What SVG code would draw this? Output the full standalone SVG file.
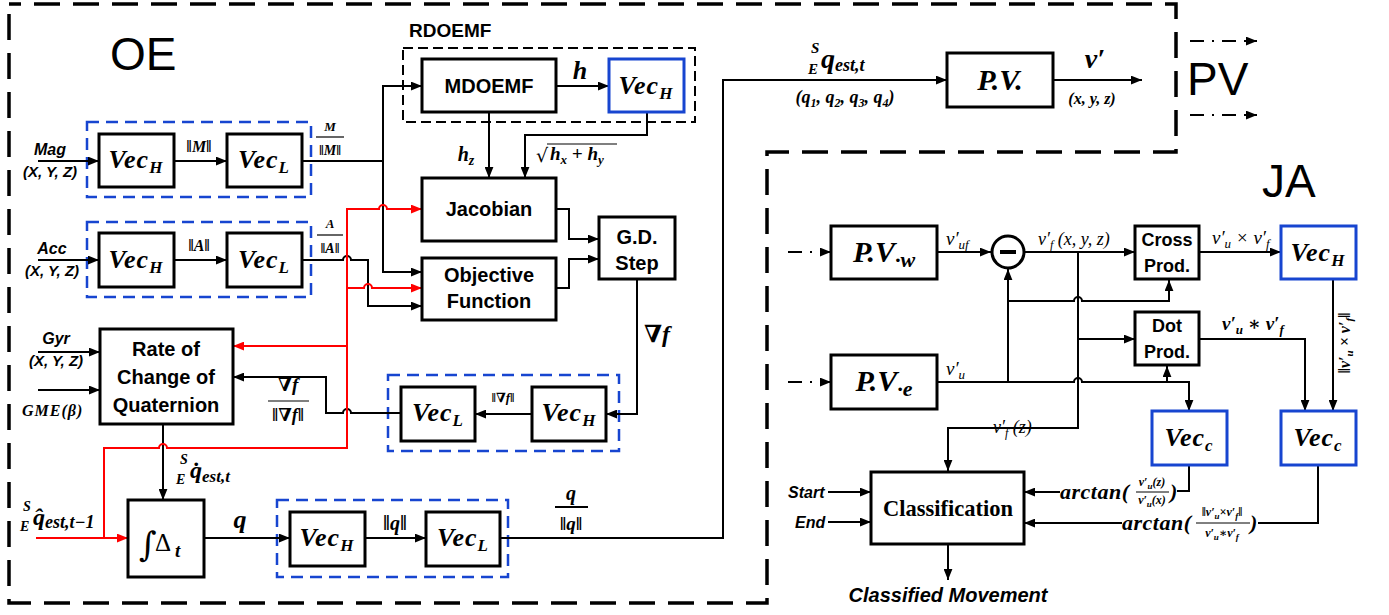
<svg xmlns="http://www.w3.org/2000/svg" width="1389" height="615" viewBox="0 0 1389 615">
<style>
.bx{fill:#fff;stroke:#000;stroke-width:3}
.bb{fill:#fff;stroke:#1745d0;stroke-width:3}
.bd{fill:none;stroke:#1745d0;stroke-width:2.5;stroke-dasharray:12 7}
.rd{fill:none;stroke:#000;stroke-width:2;stroke-dasharray:10 5}
.ob{fill:none;stroke:#000;stroke-width:3.5;stroke-dasharray:26 13}
.c{fill:none;stroke:#000;stroke-width:2}
.r{fill:none;stroke:#f00;stroke-width:2}
.dd{fill:none;stroke:#000;stroke-width:2;stroke-dasharray:14 8 2 8}
.sb{font-family:"Liberation Sans",Arial,sans-serif;font-weight:bold;fill:#000}
.si{font-family:"Liberation Sans",Arial,sans-serif;font-weight:bold;font-style:italic;fill:#000}
.m{font-family:"Liberation Serif","DejaVu Serif",serif;font-weight:bold;font-style:italic;fill:#000}
.mr{font-family:"Liberation Serif","DejaVu Serif",serif;font-style:italic;fill:#000}
.big{font-family:"Liberation Sans",Arial,sans-serif;font-size:46px;fill:#000}
.vec{font-size:26px;letter-spacing:1px}
.t20{font-size:20px}
</style>
<defs>
<marker id="a" viewBox="0 0 10 8" refX="10" refY="4" markerWidth="11" markerHeight="9" orient="auto" markerUnits="userSpaceOnUse"><path d="M0,0L10,4L0,8z" fill="#000"/></marker>
<marker id="ar" viewBox="0 0 10 8" refX="10" refY="4" markerWidth="11" markerHeight="9" orient="auto" markerUnits="userSpaceOnUse"><path d="M0,0L10,4L0,8z" fill="#f00"/></marker>
</defs>

<g id="regions">
<path class="ob" d="M9,14 V603 H767 V152 H1176 V4 H9"/>
<text class="big" x="110" y="70">OE</text>
<text class="big" x="1187" y="95">PV</text>
<text class="big" x="1262" y="197">JA</text>
<rect class="rd" x="403" y="48" width="292" height="74"/>
<text class="sb" x="409" y="37" font-size="19">RDOEMF</text>
<rect class="bd" x="87" y="122" width="224" height="75"/>
<rect class="bd" x="87" y="222" width="224" height="75"/>
<rect class="bd" x="388" y="375" width="231" height="76"/>
<rect class="bd" x="277" y="500" width="231" height="77"/>
</g>

<g id="connectors">
<path class="c" d="M38,161H99" marker-end="url(#a)"/>
<path class="c" d="M174,161H227" marker-end="url(#a)"/>
<path class="c" d="M302,161H383"/>
<path class="c" d="M383,161V86H422" marker-end="url(#a)"/>
<path class="c" d="M383,161V272H422" marker-end="url(#a)"/>
<path class="c" d="M38,260H99" marker-end="url(#a)"/>
<path class="c" d="M174,260H227" marker-end="url(#a)"/>
<path class="c" d="M302,260H343A4,4 0 0 1 351,260H368V306H422" marker-end="url(#a)"/>
<path class="c" d="M556,86H609" marker-end="url(#a)"/>
<path class="c" d="M489,112V178" marker-end="url(#a)"/>
<path class="c" d="M647,112V135H525V178" marker-end="url(#a)"/>
<path class="c" d="M556,209H569V239H599" marker-end="url(#a)"/>
<path class="c" d="M556,288H569V259H599" marker-end="url(#a)"/>
<path class="c" d="M637,279V414H606" marker-end="url(#a)"/>
<path class="c" d="M532,414H475" marker-end="url(#a)"/>
<path class="c" d="M401,413H351A4,4 0 0 0 343,413H326V377H233" marker-end="url(#a)"/>
<path class="c" d="M38,352H100" marker-end="url(#a)"/>
<path class="c" d="M38,390H100" marker-end="url(#a)"/>
<path class="c" d="M163,424V500" marker-end="url(#a)"/>
<path class="c" d="M204,538H290" marker-end="url(#a)"/>
<path class="c" d="M365,538H426" marker-end="url(#a)"/>
<path class="c" d="M500,538H723V80H947" marker-end="url(#a)"/>
<path class="c" d="M1053,80H1142" marker-end="url(#a)"/>
<path class="dd" d="M1190,41H1247"/>
<path class="c" d="M1246,41H1257" marker-end="url(#a)"/>
<path class="dd" d="M1190,115H1247"/>
<path class="c" d="M1246,115H1257" marker-end="url(#a)"/>
<path class="r" d="M36,538H128" marker-end="url(#ar)"/>
<path class="r" d="M104,538V448H159A4,4 0 0 1 167,448H347V209H379A4,4 0 0 1 387,209H422" marker-end="url(#ar)"/>
<path class="r" d="M347,288H364A4,4 0 0 1 372,288H422" marker-end="url(#ar)"/>
<path class="r" d="M347,346H233" marker-end="url(#ar)"/>
<path class="dd" d="M788,252H822"/>
<path class="c" d="M820,252H831" marker-end="url(#a)"/>
<path class="dd" d="M788,382H822"/>
<path class="c" d="M820,382H831" marker-end="url(#a)"/>
<path class="c" d="M937,252H991" marker-end="url(#a)"/>
<path class="c" d="M937,382H1074A4,4 0 0 1 1082,382H1189V411" marker-end="url(#a)"/>
<path class="c" d="M1008,382V269" marker-end="url(#a)"/>
<path class="c" d="M1008,301H1074A4,4 0 0 1 1082,301H1169V280" marker-end="url(#a)"/>
<path class="c" d="M1025,252H1135" marker-end="url(#a)"/>
<path class="c" d="M1078,252V428H948V471" marker-end="url(#a)"/>
<path class="c" d="M1078,339H1135" marker-end="url(#a)"/>
<path class="c" d="M1167,382V366" marker-end="url(#a)"/>
<path class="c" d="M1199,252H1281" marker-end="url(#a)"/>
<path class="c" d="M1333,279V411" marker-end="url(#a)"/>
<path class="c" d="M1199,339H1305V411" marker-end="url(#a)"/>
<path class="c" d="M1189,465V491H1177"/>
<path class="c" d="M1060,492H1024" marker-end="url(#a)"/>
<path class="c" d="M1318,465V523H1258"/>
<path class="c" d="M1122,523H1024" marker-end="url(#a)"/>
<path class="c" d="M828,492H871" marker-end="url(#a)"/>
<path class="c" d="M828,522H871" marker-end="url(#a)"/>
<path class="c" d="M948,544V580" marker-end="url(#a)"/>
</g>

<g id="vecH1"><rect class="bx" x="99" y="134" width="75" height="53"/><text class="m vec" x="136" y="168" text-anchor="middle">Vec<tspan font-size="17" dy="5">H</tspan></text></g>
<g id="vecL1"><rect class="bx" x="227" y="134" width="75" height="53"/><text class="m vec" x="264" y="168" text-anchor="middle">Vec<tspan font-size="17" dy="5">L</tspan></text></g>
<g id="vecH2"><rect class="bx" x="99" y="233" width="75" height="54"/><text class="m vec" x="136" y="268" text-anchor="middle">Vec<tspan font-size="17" dy="5">H</tspan></text></g>
<g id="vecL2"><rect class="bx" x="227" y="233" width="75" height="54"/><text class="m vec" x="264" y="268" text-anchor="middle">Vec<tspan font-size="17" dy="5">L</tspan></text></g>
<g id="mdoemf"><rect class="bx" x="422" y="59" width="134" height="53"/><text class="sb t20" x="489" y="93" text-anchor="middle">MDOEMF</text></g>
<g id="vecH_rd"><rect class="bb" x="609" y="59" width="75" height="53"/><text class="m vec" x="646" y="94" text-anchor="middle">Vec<tspan font-size="17" dy="5">H</tspan></text></g>
<g id="jacobian"><rect class="bx" x="422" y="178" width="134" height="63"/><text class="sb t20" x="489" y="216" text-anchor="middle">Jacobian</text></g>
<g id="objective"><rect class="bx" x="422" y="258" width="134" height="62"/><text class="sb t20" x="489" y="282" text-anchor="middle">Objective</text><text class="sb t20" x="489" y="308" text-anchor="middle">Function</text></g>
<g id="gdstep"><rect class="bx" x="599" y="217" width="76" height="62"/><text class="sb t20" x="637" y="244" text-anchor="middle">G.D.</text><text class="sb t20" x="637" y="270" text-anchor="middle">Step</text></g>
<g id="vecH3"><rect class="bx" x="532" y="387" width="74" height="54"/><text class="m vec" x="569" y="421" text-anchor="middle">Vec<tspan font-size="17" dy="5">H</tspan></text></g>
<g id="vecL3"><rect class="bx" x="401" y="387" width="74" height="54"/><text class="m vec" x="438" y="421" text-anchor="middle">Vec<tspan font-size="17" dy="5">L</tspan></text></g>
<g id="rate"><rect class="bx" x="100" y="329" width="133" height="95"/><text class="sb t20" x="166" y="356" text-anchor="middle">Rate of</text><text class="sb t20" x="166" y="384" text-anchor="middle">Change of</text><text class="sb t20" x="166" y="412" text-anchor="middle">Quaternion</text></g>
<g id="integral"><rect class="bx" x="128" y="500" width="76" height="77"/><text x="139" y="556" font-family="DejaVu Serif,serif" font-size="34">∫</text><text x="155" y="551" font-family="Liberation Serif,serif" font-size="25">Δ</text><text class="m" x="175" y="557" font-size="19">t</text></g>
<g id="vecH4"><rect class="bx" x="290" y="512" width="75" height="54"/><text class="m vec" x="327" y="546" text-anchor="middle">Vec<tspan font-size="17" dy="5">H</tspan></text></g>
<g id="vecL4"><rect class="bx" x="426" y="512" width="74" height="54"/><text class="m vec" x="463" y="546" text-anchor="middle">Vec<tspan font-size="17" dy="5">L</tspan></text></g>
<g id="pv"><rect class="bx" x="947" y="53" width="106" height="54"/><text class="m" x="1000" y="90" font-size="30" text-anchor="middle">P.V.</text></g>

<g id="pvw"><rect class="bx" x="831" y="226" width="106" height="53"/><text class="m" x="884" y="262" font-size="30" text-anchor="middle">P.V<tspan font-size="22" dy="5">·w</tspan></text></g>
<g id="pve"><rect class="bx" x="831" y="355" width="106" height="54"/><text class="m" x="884" y="391" font-size="30" text-anchor="middle">P.V<tspan font-size="22" dy="5">·e</tspan></text></g>
<g id="minus"><circle cx="1008" cy="252" r="16" fill="#fff" stroke="#000" stroke-width="3"/><rect x="1000" y="250" width="16" height="4" fill="#000"/></g>
<g id="cross"><rect class="bx" x="1135" y="226" width="64" height="53"/><text class="sb" x="1167" y="246" font-size="18" text-anchor="middle">Cross</text><text class="sb" x="1167" y="272" font-size="18" text-anchor="middle">Prod.</text></g>
<g id="dot"><rect class="bx" x="1135" y="312" width="64" height="53"/><text class="sb" x="1167" y="332" font-size="18" text-anchor="middle">Dot</text><text class="sb" x="1167" y="358" font-size="18" text-anchor="middle">Prod.</text></g>
<g id="vecH_ja"><rect class="bb" x="1281" y="226" width="75" height="53"/><text class="m vec" x="1318" y="261" text-anchor="middle">Vec<tspan font-size="17" dy="5">H</tspan></text></g>
<g id="vecC1"><rect class="bb" x="1152" y="411" width="75" height="54"/><text class="m vec" x="1189" y="446" text-anchor="middle">Vec<tspan font-size="17" dy="5">c</tspan></text></g>
<g id="vecC2"><rect class="bb" x="1281" y="411" width="75" height="54"/><text class="m vec" x="1318" y="446" text-anchor="middle">Vec<tspan font-size="17" dy="5">c</tspan></text></g>
<g id="classification"><rect class="bx" x="871" y="472" width="153" height="72"/><text x="948" y="516" font-family="Liberation Serif,serif" font-weight="bold" font-size="22.5" text-anchor="middle">Classification</text></g>

<g id="labels">
<text class="si" x="50" y="155" font-size="16" text-anchor="middle">Mag</text>
<text class="si" x="50" y="177" font-size="15" text-anchor="middle">(X, Y, Z)</text>
<text class="si" x="52" y="254" font-size="16" text-anchor="middle">Acc</text>
<text class="si" x="52" y="276" font-size="15" text-anchor="middle">(X, Y, Z)</text>
<text class="si" x="56" y="344" font-size="16" text-anchor="middle">Gyr</text>
<text class="si" x="56" y="366" font-size="15" text-anchor="middle">(X, Y, Z)</text>
<text class="m" x="22" y="416" font-size="16" letter-spacing="1">GME(β)</text>
<text class="m" x="199" y="152" font-size="16" text-anchor="middle">‖M‖</text>
<text class="m" x="330" y="131" font-size="13" text-anchor="middle">M</text>
<path d="M316,137H344" stroke="#000" stroke-width="1.2"/>
<text class="m" x="330" y="155" font-size="14" text-anchor="middle">‖M‖</text>
<text class="m" x="199" y="251" font-size="16" text-anchor="middle">‖A‖</text>
<text class="m" x="330" y="228" font-size="13" text-anchor="middle">A</text>
<path d="M317,235H343" stroke="#000" stroke-width="1.2"/>
<text class="m" x="330" y="253" font-size="14" text-anchor="middle">‖A‖</text>
<text class="m" x="580" y="79" font-size="26" text-anchor="middle">h</text>
<text class="m" x="466" y="161" font-size="20" text-anchor="middle">h<tspan font-size="14" dy="4">z</tspan></text>
<text x="536" y="162" font-family="DejaVu Serif,serif" font-size="19">√</text>
<path d="M547,144H617" stroke="#000" stroke-width="1.2"/>
<text class="m" x="550" y="160" font-size="19">h<tspan font-size="13" dy="4">x</tspan><tspan dy="-4"> + h</tspan><tspan font-size="13" dy="4">y</tspan></text>
<text class="m" x="657" y="342" font-size="24" text-anchor="middle">∇f</text>
<text class="m" x="288" y="391" font-size="19" text-anchor="middle">∇f</text>
<path d="M268,401H309" stroke="#000" stroke-width="1.2"/>
<text class="m" x="288" y="421" font-size="18" text-anchor="middle">‖∇f‖</text>
<text class="m" x="503" y="402" font-size="13" text-anchor="middle">‖∇f‖</text>
<text class="m" x="180" y="464" font-size="14">S</text>
<text class="m" x="176" y="484" font-size="14">E</text>
<text class="m" x="190" y="478" font-size="24">q̇<tspan font-size="17" dy="4">est,t</tspan></text>
<text class="m" x="23" y="511" font-size="14">S</text>
<text class="m" x="20" y="531" font-size="14">E</text>
<text class="m" x="33" y="525" font-size="24">q̂<tspan font-size="18" dy="3">est,t−1</tspan></text>
<text class="m" x="240" y="528" font-size="26" text-anchor="middle">q</text>
<text class="m" x="395" y="530" font-size="20" text-anchor="middle">‖q‖</text>
<text class="m" x="571" y="500" font-size="20" text-anchor="middle">q</text>
<path d="M555,507H588" stroke="#000" stroke-width="2"/>
<text class="m" x="571" y="530" font-size="19" text-anchor="middle">‖q‖</text>
<text class="m" x="811" y="53" font-size="15">S</text>
<text class="m" x="808" y="74" font-size="15">E</text>
<text class="m" x="821" y="68" font-size="28">q<tspan font-size="18" dy="3">est,t</tspan></text>
<text class="m" x="845" y="103" font-size="18" text-anchor="middle">(q<tspan font-size="12" dy="4">1</tspan><tspan dy="-4">, q</tspan><tspan font-size="12" dy="4">2</tspan><tspan dy="-4">, q</tspan><tspan font-size="12" dy="4">3</tspan><tspan dy="-4">, q</tspan><tspan font-size="12" dy="4">4</tspan><tspan dy="-4">)</tspan></text>
<text class="m" x="1095" y="68" font-size="28" text-anchor="middle">v′</text>
<text class="m" x="1092" y="104" font-size="16" text-anchor="middle">(x, y, z)</text>
<text class="mr" x="946" y="245" font-size="19">v′<tspan font-size="13" dy="4">uf</tspan></text>
<text class="mr" x="946" y="375" font-size="19">v′<tspan font-size="13" dy="4">u</tspan></text>
<text class="mr" x="1038" y="245" font-size="18">v′<tspan font-size="12" dy="4">f</tspan><tspan dy="-4"> (x, y, z)</tspan></text>
<text class="mr" x="1212" y="244" font-size="19">v′<tspan font-size="13" dy="4">u</tspan><tspan dy="-4"> × v′</tspan><tspan font-size="13" dy="4">f</tspan></text>
<text class="m" x="1222" y="330" font-size="19">v′<tspan font-size="13" dy="4">u</tspan><tspan dy="-4"> ∗ v′</tspan><tspan font-size="13" dy="4">f</tspan></text>
<text class="mr" x="993" y="433" font-size="18">v′<tspan font-size="12" dy="4">f</tspan><tspan dy="-4"> (z)</tspan></text>
<text class="m" transform="translate(1350,343) rotate(-90)" font-size="16" text-anchor="middle">‖v′<tspan font-size="11" dy="3">u</tspan><tspan dy="-3"> × v′</tspan><tspan font-size="11" dy="3">f</tspan><tspan dy="-3">‖</tspan></text>
<text class="m" x="1060" y="499" font-size="22" letter-spacing="0.5">arctan(</text>
<text class="m" x="1152" y="486" font-size="12" text-anchor="middle">v′<tspan font-size="9" dy="3">u</tspan><tspan dy="-3">(z)</tspan></text>
<path d="M1136,492H1169" stroke="#000" stroke-width="1"/>
<text class="m" x="1152" y="504" font-size="12" text-anchor="middle">v′<tspan font-size="9" dy="3">u</tspan><tspan dy="-3">(x)</tspan></text>
<text class="m" x="1170" y="499" font-size="22">)</text>
<text class="m" x="1122" y="530" font-size="22" letter-spacing="0.5">arctan(</text>
<text class="m" x="1222" y="516" font-size="12" text-anchor="middle">‖v′<tspan font-size="9" dy="3">u</tspan><tspan dy="-3">×v′</tspan><tspan font-size="9" dy="3">f</tspan><tspan dy="-3">‖</tspan></text>
<path d="M1196,523H1250" stroke="#000" stroke-width="1"/>
<text class="m" x="1222" y="537" font-size="12" text-anchor="middle">v′<tspan font-size="9" dy="3">u</tspan><tspan dy="-3">∗v′</tspan><tspan font-size="9" dy="3">f</tspan></text>
<text class="m" x="1250" y="530" font-size="22">)</text>
<text class="si" x="788" y="498" font-size="16">Start</text>
<text class="si" x="795" y="528" font-size="16">End</text>
<text class="si" x="948" y="602" font-size="20" text-anchor="middle">Classified Movement</text>
</g>
</svg>
